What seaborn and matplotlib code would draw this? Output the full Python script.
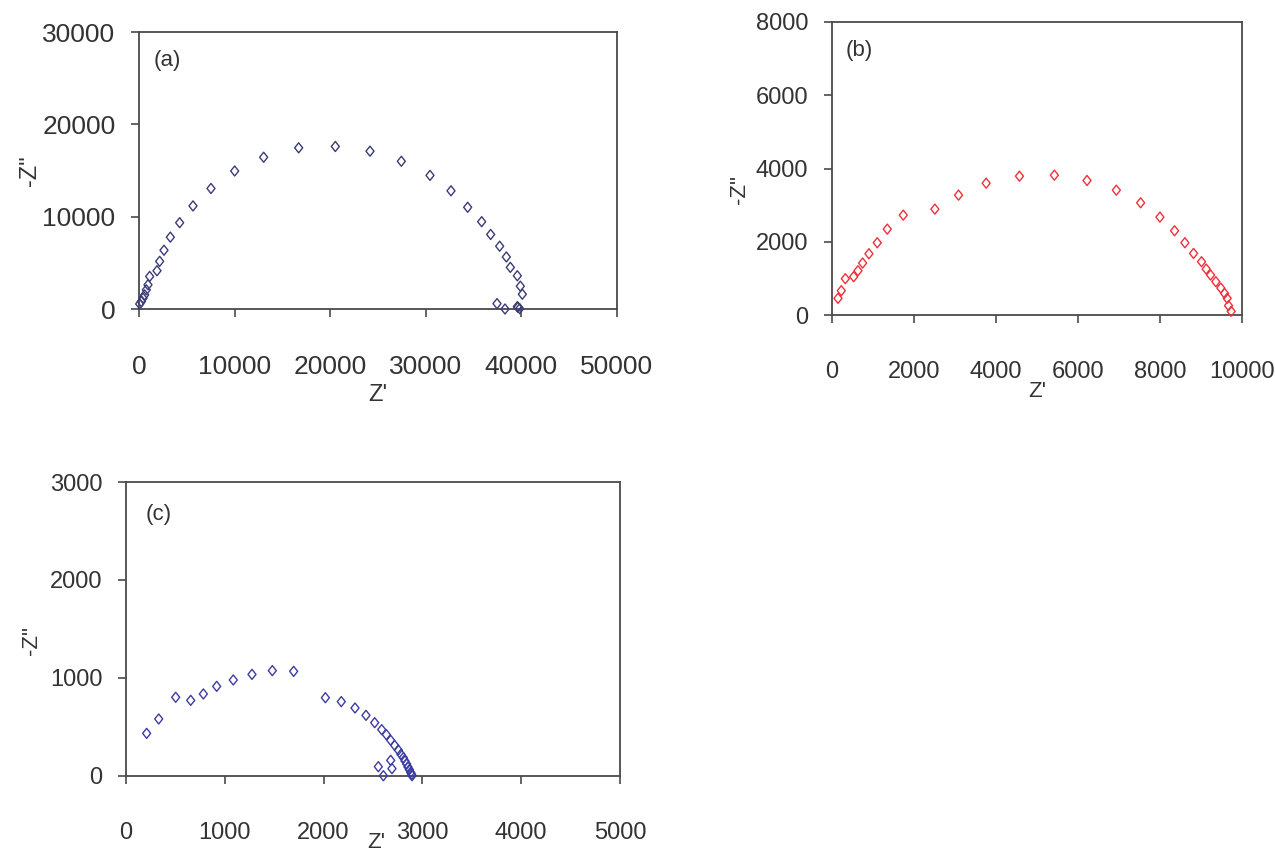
import matplotlib
matplotlib.use("Agg")
import matplotlib.pyplot as plt
import seaborn as sns
import pandas as pd
from matplotlib import font_manager
from matplotlib.path import Path

# Nyquist data, panel (a)
a_zre = [70, 244, 418, 593, 767, 941, 1116, 1883, 2162, 2615, 3278, 4254, 5649,
         7531, 10007, 13040, 16702, 20537, 24163, 27441, 30439, 32636, 34379,
         35844, 36785, 37727, 38424, 38843, 39575, 39888, 40098, 37448, 38285,
         39575, 39819, 39644]
a_zim = [545, 800, 1164, 1527, 2073, 2618, 3527, 4145, 5164, 6364, 7782, 9345,
         11164, 13055, 14945, 16436, 17455, 17600, 17091, 16000, 14473, 12800,
         11018, 9455, 8073, 6800, 5636, 4509, 3600, 2473, 1600, 582, 0, 255, 36,
         182]

# Nyquist data, panel (b)
b_zre = [146, 227, 325, 528, 633, 747, 901, 1104, 1348, 1738, 2509, 3086, 3760,
         4572, 5424, 6220, 6935, 7527, 7998, 8355, 8607, 8818, 9013, 9127, 9233,
         9362, 9484, 9574, 9639, 9671, 9736]
b_zim = [455, 664, 991, 1045, 1209, 1418, 1673, 1973, 2345, 2727, 2891, 3273,
         3600, 3791, 3818, 3673, 3409, 3064, 2673, 2300, 1973, 1682, 1455, 1255,
         1091, 909, 736, 591, 455, 255, 100]

# Nyquist data, panel (c)
c_zre = [209, 331, 503, 655, 783, 918, 1086, 1275, 1481, 1697, 2018, 2179, 2318,
         2429, 2517, 2588, 2635, 2679, 2719, 2756, 2783, 2807, 2824, 2841, 2854,
         2868, 2881, 2891, 2895, 2554, 2679, 2692, 2605]
c_zim = [435, 582, 803, 772, 837, 915, 980, 1037, 1075, 1068, 799, 759, 694,
         619, 544, 473, 422, 364, 313, 265, 221, 187, 153, 122, 92, 65, 37, 17,
         3, 95, 160, 75, 3]

panel_tags = ["(a)", "(b)", "(c)"]
x_label = "Z'"
y_label = '-Z"'

sns.set_theme(style="white")
available = {f.name for f in font_manager.fontManager.ttflist}
tick_family = ["Liberation Sans Narrow", "Liberation Sans", "DejaVu Sans"]
tick_family = [f for f in tick_family if f in available] + ["DejaVu Sans"]
plt.rcParams["font.family"] = ["Liberation Sans", "DejaVu Sans"]

TEXT = "#333333"
W, H = 1275, 852
fig = plt.figure(figsize=(W / 100, H / 100), dpi=100)

# slightly tall open diamond
DIAMOND = Path([(0, 1), (0.8, 0), (0, -1), (-0.8, 0), (0, 1)],
               [Path.MOVETO, Path.LINETO, Path.LINETO, Path.LINETO,
                Path.CLOSEPOLY])


def px_axes(left, right, top, bottom):
    return fig.add_axes([left / W, 1 - bottom / H, (right - left) / W,
                         (bottom - top) / H])


def style(ax, xmax, xstep, ymax, ystep, tsize, xlab_pos, ylab_pos, lsize):
    ax.set_xlim(0, xmax)
    ax.set_ylim(0, ymax)
    ax.set_xticks(range(0, xmax + 1, xstep))
    ax.set_yticks(range(0, ymax + 1, ystep))
    for s in ax.spines.values():
        s.set_visible(True)
        s.set_color("#4a4a4a")
        s.set_linewidth(1.3)
    ax.tick_params(axis="both", which="major", direction="out", length=6,
                   width=1.2, color="#4a4a4a", labelcolor=TEXT,
                   bottom=True, left=True, top=False, right=False)
    ax.tick_params(axis="x", pad=27)
    ax.tick_params(axis="y", pad=11)
    for lab in ax.get_xticklabels() + ax.get_yticklabels():
        lab.set_fontfamily(tick_family)
        lab.set_fontsize(tsize)
    ax.set_xlabel(x_label, fontsize=lsize, color=TEXT)
    ax.set_ylabel(y_label, fontsize=lsize, color=TEXT)
    ax.xaxis.set_label_coords(*xlab_pos)
    ax.yaxis.set_label_coords(*ylab_pos)
    ax.grid(False)


def draw(ax, zre, zim, color):
    df = pd.DataFrame({"Zre": zre, "Zim": zim})
    sns.scatterplot(data=df, x="Zre", y="Zim", ax=ax, marker=DIAMOND, s=52,
                    facecolor="none", edgecolor=color, linewidth=1.0,
                    legend=False, clip_on=False, zorder=3)


# (a)
ax_a = px_axes(139, 617, 32, 309)
draw(ax_a, a_zre, a_zim, "#3b3b78")
style(ax_a, 50000, 10000, 30000, 10000, 19, (0.5, -0.27), (-0.205, 0.5), 17)
ax_a.text(0.03, 0.935, panel_tags[0], transform=ax_a.transAxes, fontsize=16,
          color=TEXT, va="top", ha="left")

# (b)
ax_b = px_axes(832, 1242, 22, 315)
draw(ax_b, b_zre, b_zim, "#f0303a")
style(ax_b, 10000, 2000, 8000, 2000, 17, (0.5, -0.225), (-0.2, 0.43), 16)
ax_b.text(0.033, 0.94, panel_tags[1], transform=ax_b.transAxes, fontsize=16,
          color=TEXT, va="top", ha="left")

# (c)
ax_c = px_axes(126, 620, 482, 776)
draw(ax_c, c_zre, c_zim, "#3c3ca4")
style(ax_c, 5000, 1000, 3000, 1000, 17, (0.506, -0.19), (-0.17, 0.46), 16)
ax_c.text(0.04, 0.925, panel_tags[2], transform=ax_c.transAxes, fontsize=16,
          color=TEXT, va="top", ha="left")

fig.savefig("out.png", dpi=100, facecolor="white")
